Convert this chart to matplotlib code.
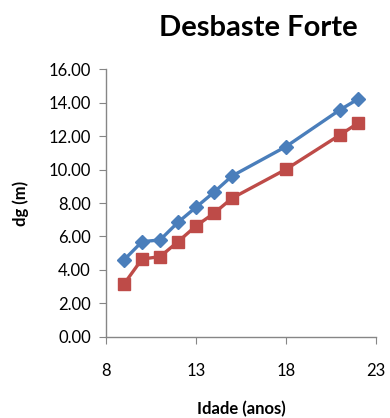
import matplotlib.pyplot as plt
from matplotlib.ticker import FormatStrFormatter

# === DADOS ===
idade = [9, 10, 11, 12, 13, 14, 15, 18, 21, 22]
dg_azul = [4.60, 5.69, 5.79, 6.85, 7.75, 8.65, 9.62, 11.38, 13.58, 14.22]
dg_vermelho = [3.16, 4.65, 4.79, 5.69, 6.63, 7.39, 8.29, 10.02, 12.08, 12.78]

x_ticks = [8, 13, 18, 23]
y_ticks = [0, 2, 4, 6, 8, 10, 12, 14, 16]

plt.rcParams['font.family'] = ['Lato', 'DejaVu Sans']

# === PLOT ===
fig = plt.figure(figsize=(3.9, 4.18), dpi=100)
ax = fig.add_axes([0.272, 0.1945, 0.692, 0.6395])

ax.plot(idade, dg_azul, color='#4A7EBB', lw=2.4, marker='D', ms=7.5,
        clip_on=False, zorder=3)
ax.plot(idade, dg_vermelho, color='#BE4B48', lw=2.4, marker='s', ms=9,
        clip_on=False, zorder=3)

ax.set_xlim(8, 23)
ax.set_ylim(0, 16)
ax.set_xticks(x_ticks)
ax.set_yticks(y_ticks)
ax.yaxis.set_major_formatter(FormatStrFormatter('%.2f'))

for s in ['top', 'right']:
    ax.spines[s].set_visible(False)
for s in ['left', 'bottom']:
    ax.spines[s].set_color('#868686')
    ax.spines[s].set_linewidth(1.0)

ax.tick_params(axis='both', direction='out', length=5, color='#868686',
               labelsize=12, labelcolor='black')
ax.tick_params(axis='x', pad=14)
ax.tick_params(axis='y', pad=6)

fig.text(0.662, 0.932, 'Desbaste Forte', ha='center', va='center',
         fontsize=21, fontweight='bold')
ax.set_xlabel('Idade (anos)', fontsize=12, fontweight='bold', labelpad=16)
ax.set_ylabel('dg (m)', fontsize=12, fontweight='bold', labelpad=14)

fig.savefig('out.png', dpi=100)
